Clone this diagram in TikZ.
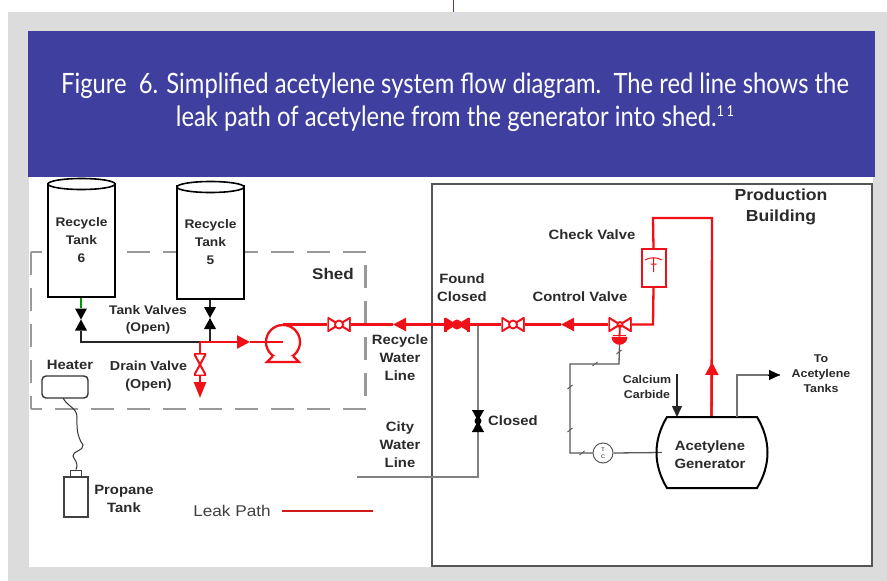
\documentclass[tikz,border=0pt]{standalone}
\usepackage{fontspec}
\setmainfont[FakeStretch=1.1]{Liberation Sans}
\newfontfamily\capfont[FakeStretch=0.85]{Lato}
\usetikzlibrary{arrows.meta,calc,positioning,shapes.geometric}
\definecolor{bannerblue}{HTML}{3F3F9F}
\definecolor{panelgray}{HTML}{DCDCDC}
\definecolor{pipered}{HTML}{F01018}
\definecolor{wallgray}{HTML}{555555}
\definecolor{shedgray}{HTML}{999999}
\definecolor{labelgray}{HTML}{2A2A2A}
\tikzset{lbl/.style={inner sep=0pt,align=center,yshift=-0.8pt,text=labelgray,font=\fontsize{13.5}{18}\selectfont\bfseries},
  smalllbl/.style={lbl,font=\fontsize{11.3}{15}\selectfont\bfseries},
  tank/.style={draw=black,line width=2pt,fill=white,minimum width=67pt,minimum height=113pt,inner sep=0pt,align=center,
    text=labelgray,font=\fontsize{12.5}{18}\selectfont\bfseries},
  tanktop/.style={draw=black,line width=1.6pt,fill=white,ellipse,minimum width=67pt,minimum height=11pt,inner sep=0pt},
  pipe/.style={pipered,line width=2.3pt},
  blackpipe/.style={black!85,line width=2.3pt},
  graypipe/.style={gray,line width=2.3pt},
  signal/.style={black!65,line width=1.3pt},
  shedline/.style={shedgray,line width=2.6pt,dash pattern=on 23pt off 13pt},
  redarr/.style={pipe,-{Triangle[length=13pt,width=13pt]}},
  blackarr/.style={-{Triangle[length=11pt,width=10pt]}},
  valveh/.style={minimum width=23pt,minimum height=14pt,inner sep=0pt,
    path picture={\draw[#1,line width=2pt] (path picture bounding box.north west)--(path picture bounding box.south east)
      --(path picture bounding box.north east)--(path picture bounding box.south west)--cycle;
      \draw[#1,line width=3pt] (path picture bounding box.north west)--(path picture bounding box.south west)
      (path picture bounding box.north east)--(path picture bounding box.south east);}},
  valvev/.style={minimum width=12pt,minimum height=22pt,inner sep=0pt,
    path picture={\draw[#1,line width=2pt] (path picture bounding box.north west)--(path picture bounding box.south east)
      --(path picture bounding box.south west)--(path picture bounding box.north east)--cycle;}},
  solidv/.style={minimum width=12pt,minimum height=22pt,inner sep=0pt,
    path picture={\fill[#1] (path picture bounding box.north west)--(path picture bounding box.south east)
      --(path picture bounding box.south west)--(path picture bounding box.north east)--cycle;}},
  ball/.style={circle,draw=pipered,line width=1.8pt,fill=white,minimum size=8pt,inner sep=0pt}}
\begin{document}
\begin{tikzpicture}[x=1pt,y=-1pt]
\useasboundingbox (0,0) rectangle (887,581);
% page and banner
\fill[panelgray] (8,12) rectangle (887,581);
\draw[bannerblue,line width=0.8pt] (453.5,0)--(453.5,12);
\fill[white] (29,177) rectangle (873,567);
\fill[bannerblue] (28,31) rectangle (875,177);
\node[inner sep=0pt,text=white,align=center,font=\capfont\fontsize{28}{33.5}\selectfont] (caption) at (455,102)
  {Figure\ \ 6. Simplified acetylene system flow diagram.\ \ The red line shows the\\
   leak path of acetylene from the generator into shed.\raisebox{10pt}{\fontsize{15}{15}\selectfont 1\,1}};
% building and shed
\node[draw=wallgray,line width=1.6pt,minimum width=440pt,minimum height=382pt,inner sep=0pt] (building) at (652,375){};
\node[lbl,font=\fontsize{16}{21}\selectfont\bfseries] (prod) at (781,206){Production\\Building};
\draw[shedline] (366,252)--(31,252);
\draw[shedline] (31,252)--(31,409);
\draw[shedline] (366,409)--(31,409);
\draw[shedline] (365.5,265)--(365.5,397);
\node[lbl,font=\fontsize{15.5}{16}\selectfont\bfseries] (shed) at (333,273){Shed};
% tanks
\node[tank] (tank6) at (81.5,240.5){Recycle\\Tank\\6};
\node[tank] (tank5) at (210.5,242.5){Recycle\\Tank\\5};
\node[tanktop] (top6) at (81.5,184){};
\node[tanktop] (top5) at (210.5,187){};
\node[solidv=black] (v6) at (81,319.5){};
\node[solidv=black] (v5) at (210,318){};
\coordinate (c6) at (81,342); \coordinate (c5) at (210,342); \coordinate (drain) at (200,342);
\coordinate (a1) at (250,342);
\node[circle,draw=pipered,line width=2.3pt,fill=white,minimum size=34pt,inner sep=0pt] (pump) at (283,342){};
\draw[green!60!black,line width=2pt] (tank6.south-|v6)--(v6.north);
\draw[blackpipe] (v6.south)--(c6)--(drain);
\draw[black!85,line width=1.8pt] (tank5.south-|v5)--(v5.north);
\draw[black!85,line width=1.8pt] (v5.south)--(c5);
\draw[pipe] (drain)--(c5);
\draw[redarr] (c5)--(a1); \draw[pipe] (a1)--(pump.center);
\draw[pipe,fill=white] (273,356)--(267,362)--(299,362)--(293,356);
\node[lbl,font=\fontsize{12.5}{17}\selectfont\bfseries] (tvl) at (148,318.5){Tank Valves\\(Open)};
\node[lbl,font=\fontsize{13}{18}\selectfont\bfseries] (dvl) at (148.5,375){Drain Valve\\(Open)};
% drain
\node[valvev=pipered] (vd) at (200,364.5){};
\coordinate (dtip) at (200,398);
\draw[pipe] (drain)--(vd.north);
\draw[pipe,-{Triangle[length=16pt,width=12pt]}] (vd.south)--(dtip);
% red main line
\coordinate (p1) at (283,324.5); \coordinate (a2) at (393,324.5); \coordinate (a3) at (561,324.5);
\coordinate (bend) at (653,324.5); \coordinate (top1) at (653,218); \coordinate (top2) at (712,218);
\coordinate (a4) at (712,362); \coordinate (tee) at (478,324.5);
\node[lbl] (rwl) at (400,357){Recycle\\Water\\Line};
\node[lbl] (cwl) at (400,444){City\\Water\\Line};
\node[lbl] (fcl) at (462,287){Found\\Closed};
\node[lbl] (cvl) at (580,296){Control Valve};
\node[lbl] (ckl) at (592,234){Check Valve};
\node[minimum width=23pt,minimum height=14pt,inner sep=0pt] (vf) at (457,324.5){};
\node[valveh=pipered] (vb) at (339,324.5){};
\node[valveh=pipered] (vm) at (513,324.5){};
\node[valveh=pipered] (vc) at (620,324.5){};
\node[draw=pipered,line width=2pt,fill=white,minimum width=24pt,minimum height=38pt,inner sep=0pt] (check) at (653.5,268){};
\node[inner sep=0pt,minimum width=99pt,minimum height=71pt] (gen) at (711.5,452.5){};
\node[lbl] (genl) at (710,453.5){Acetylene\\Generator};
\draw[pipe] (p1)--(vb.west); \draw[pipe] (vb.east)--(a2);
\draw[graypipe] (tee)--(478,477)--(357,477);
\draw[redarr] (vf.west)--(a2);
\draw[pipe] (vm.west)--(vf.east);
\draw[redarr] (vc.west)--(a3); \draw[pipe] (a3)--(vm.east);
\draw[pipe] (check.south)--(bend)--(vc.east);
\draw[pipe] (check.north)--(top1)--(top2)--(gen.north);
\draw[redarr] (gen.north)--(a4);
\fill[pipered] (445.5,317.5)--(468.5,331.5)--(468.5,317.5)--(445.5,331.5)--cycle;
\draw[pipered,line width=3pt] (445.5,317.5)--(445.5,331.5) (468.5,317.5)--(468.5,331.5);
\node[ball,fill=pipered] (bf) at (vf){};
\node[ball] (bb) at (vb){}; \node[ball] (bm) at (vm){};
\node[ball,minimum size=5pt] (bc) at (vc){};
% check valve mark
\draw[pipered,line width=1pt] (645,260)..controls (650,257) and (657,257)..(662,260) (653.5,258)--(653.5,272) (650.5,264)--(656.5,264);
% control valve stem and signal
\node[fill=pipered,semicircle,shape border rotate=180,minimum size=8pt,inner sep=0pt] (act) at (619.5,340){};
\draw[pipe,line width=1.8pt] (vc.center)--(act.north);
\draw[pipered,line width=1.6pt] (613,335.5)--(626,335.5);
\node[draw=black!65,line width=1pt,circle,fill=white,minimum size=20pt,inner sep=0pt,align=center,font=\fontsize{5}{7}\selectfont] (tc) at (603,453){T\\C};
\coordinate (s1) at (619,364); \coordinate (s2) at (570,364); \coordinate (s3) at (570,453);
\draw[signal] (act.south)--(s1)--(s2)--(s3)--(tc.west);
\draw[signal] (tc.east)--(gen.west);
\foreach \x/\y in {619/352,595/364,570/387,570/430,582/453}{\draw[signal,line width=0.9pt] (\x-2.5,\y+2)--(\x+2.5,\y-2);}
% generator
\draw[black,line width=2pt] (667,417)--(757,417)..controls (771,440) and (771,465)..(757,488)--(667,488)
  ..controls (653,465) and (653,440)..(667,417)--cycle;
\coordinate (cc1) at (677,374); \coordinate (cc2) at (677,417);
\draw[black!85,line width=1.4pt,blackarr] (cc1)--(cc2);
\node[smalllbl] (ccl) at (647,386.5){Calcium\\Carbide};
\coordinate (o1) at (737,417); \coordinate (o2) at (737,375); \coordinate (o3) at (780,375);
\draw[gray!90!black,line width=1.8pt] (o1)--(o2)--(o3);
\draw[black,line width=1pt,blackarr] (768,375)--(o3);
\node[smalllbl] (tol) at (821,373){To\\Acetylene\\Tanks};
% city water valve
\node[solidv=black] (vcl) at (478,421){};
\fill[black] (vcl) circle (3.5pt);
\draw[black,line width=1.8pt] (472,410.5)--(484,410.5) (472,431.5)--(484,431.5);
\node[lbl,anchor=west] (cll) at (488,420){Closed};
% heater and propane
\node[lbl] (hl) at (70,364){Heater};
\node[draw=black!80,line width=1.4pt,rounded corners=4pt,minimum width=46pt,minimum height=22pt,inner sep=0pt] (heater) at (65,387){};
\node[draw=black!75,line width=1.2pt,minimum width=24pt,minimum height=40pt,inner sep=0pt] (propane) at (76,497){};
\node[draw=black!75,line width=1pt,minimum width=11pt,minimum height=7pt,inner sep=0pt] (pvalve) at (76,473.5){};
\draw[black!80,line width=1pt] (63,398)..controls (68,407) and (77,408)..(77,417)..controls (77,425) and (76,435)..(83,445)
  ..controls (84,451) and (72,451)..(73,456)..controls (74,460) and (79,462)..(pvalve.north);
\node[lbl] (ptl) at (124,498){Propane\\Tank};
% leak path key
\node[inner sep=0pt,text=black!75,font=\fontsize{15.6}{18}\selectfont] (leak) at (232,511){Leak Path};
\coordinate (lk) at (373,511);
\draw[red!80!black!90,line width=2.8pt] (282,511)--(lk);
\end{tikzpicture}
\end{document}
